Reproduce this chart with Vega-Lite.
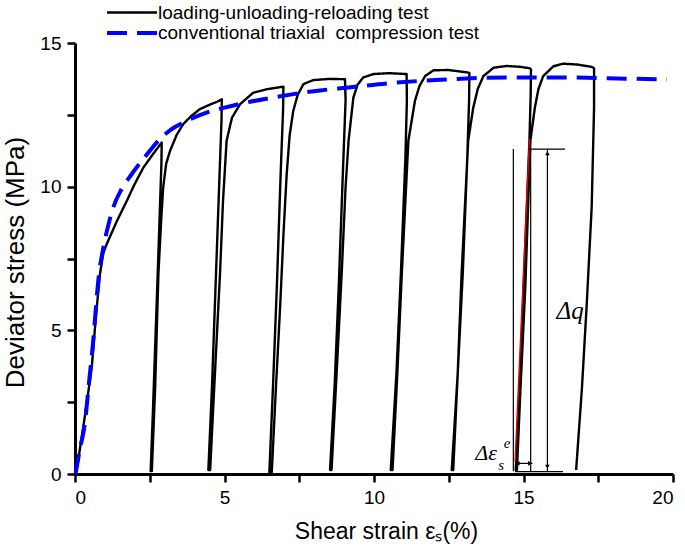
{
  "$schema": "https://vega.github.io/schema/vega-lite/v6.json",
  "autosize": {"type": "none"},
  "padding": {"left": 75, "top": 43, "right": 12, "bottom": 78},
  "width": 598,
  "height": 431,
  "background": "white",
  "config": {
    "view": {"stroke": null},
    "font": "Liberation Sans",
    "axis": {
      "grid": false,
      "domainColor": "black",
      "domainWidth": 3,
      "tickColor": "black",
      "tickWidth": 2.5,
      "tickSize": 8,
      "labelFont": "Liberation Sans",
      "labelFontSize": 19,
      "labelColor": "black",
      "titleFont": "Liberation Sans",
      "titleFontWeight": "normal",
      "titleColor": "black"
    },
    "legend": {
      "orient": "none",
      "legendX": 30,
      "legendY": -40,
      "padding": 0,
      "symbolType": "M-1,0H5.25",
      "symbolSize": 256,
      "labelFont": "Liberation Sans",
      "labelFontSize": 19,
      "labelColor": "black",
      "labelLimit": 0,
      "labelOffset": 33,
      "rowPadding": 0,
      "direction": "vertical"
    }
  },
  "datasets": {
    "curves": [
      {"series": "loading-unloading-reloading test", "i": 1, "x": 0, "y": 0},
      {"series": "loading-unloading-reloading test", "i": 2, "x": 0.08, "y": 0.3},
      {"series": "loading-unloading-reloading test", "i": 3, "x": 0.3, "y": 1.8},
      {"series": "loading-unloading-reloading test", "i": 4, "x": 0.56, "y": 3.7},
      {"series": "loading-unloading-reloading test", "i": 5, "x": 0.7, "y": 5.5},
      {"series": "loading-unloading-reloading test", "i": 6, "x": 0.84, "y": 7.0},
      {"series": "loading-unloading-reloading test", "i": 7, "x": 0.95, "y": 7.7},
      {"series": "loading-unloading-reloading test", "i": 8, "x": 1.06, "y": 8.0},
      {"series": "loading-unloading-reloading test", "i": 9, "x": 1.4, "y": 8.8},
      {"series": "loading-unloading-reloading test", "i": 10, "x": 1.73, "y": 9.5},
      {"series": "loading-unloading-reloading test", "i": 11, "x": 2.0, "y": 10.1},
      {"series": "loading-unloading-reloading test", "i": 12, "x": 2.29, "y": 10.67},
      {"series": "loading-unloading-reloading test", "i": 13, "x": 2.6, "y": 11.12},
      {"series": "loading-unloading-reloading test", "i": 14, "x": 2.9, "y": 11.54},
      {"series": "loading-unloading-reloading test", "i": 15, "x": 2.89, "y": 10.8},
      {"series": "loading-unloading-reloading test", "i": 16, "x": 2.8, "y": 8.0},
      {"series": "loading-unloading-reloading test", "i": 17, "x": 2.7, "y": 5.0},
      {"series": "loading-unloading-reloading test", "i": 18, "x": 2.6, "y": 2.0},
      {"series": "loading-unloading-reloading test", "i": 19, "x": 2.53, "y": 0.1},
      {"series": "loading-unloading-reloading test", "i": 20, "x": 2.57, "y": 0.1},
      {"series": "loading-unloading-reloading test", "i": 21, "x": 2.68, "y": 3.0},
      {"series": "loading-unloading-reloading test", "i": 22, "x": 2.79, "y": 6.97},
      {"series": "loading-unloading-reloading test", "i": 23, "x": 2.88, "y": 8.8},
      {"series": "loading-unloading-reloading test", "i": 24, "x": 2.95, "y": 9.98},
      {"series": "loading-unloading-reloading test", "i": 25, "x": 3.05, "y": 10.8},
      {"series": "loading-unloading-reloading test", "i": 26, "x": 3.18, "y": 11.25},
      {"series": "loading-unloading-reloading test", "i": 27, "x": 3.4, "y": 11.8},
      {"series": "loading-unloading-reloading test", "i": 28, "x": 3.62, "y": 12.18},
      {"series": "loading-unloading-reloading test", "i": 29, "x": 3.9, "y": 12.47},
      {"series": "loading-unloading-reloading test", "i": 30, "x": 4.18, "y": 12.7},
      {"series": "loading-unloading-reloading test", "i": 31, "x": 4.5, "y": 12.85},
      {"series": "loading-unloading-reloading test", "i": 32, "x": 4.74, "y": 12.95},
      {"series": "loading-unloading-reloading test", "i": 33, "x": 4.91, "y": 13.04},
      {"series": "loading-unloading-reloading test", "i": 34, "x": 4.9, "y": 12.3},
      {"series": "loading-unloading-reloading test", "i": 35, "x": 4.82, "y": 10.0},
      {"series": "loading-unloading-reloading test", "i": 36, "x": 4.7, "y": 6.5},
      {"series": "loading-unloading-reloading test", "i": 37, "x": 4.58, "y": 3.0},
      {"series": "loading-unloading-reloading test", "i": 38, "x": 4.46, "y": 0.14},
      {"series": "loading-unloading-reloading test", "i": 39, "x": 4.52, "y": 0.14},
      {"series": "loading-unloading-reloading test", "i": 40, "x": 4.68, "y": 3.5},
      {"series": "loading-unloading-reloading test", "i": 41, "x": 4.85, "y": 6.97},
      {"series": "loading-unloading-reloading test", "i": 42, "x": 4.95, "y": 9.5},
      {"series": "loading-unloading-reloading test", "i": 43, "x": 5.07, "y": 11.6},
      {"series": "loading-unloading-reloading test", "i": 44, "x": 5.25, "y": 12.4},
      {"series": "loading-unloading-reloading test", "i": 45, "x": 5.52, "y": 12.87},
      {"series": "loading-unloading-reloading test", "i": 46, "x": 5.96, "y": 13.27},
      {"series": "loading-unloading-reloading test", "i": 47, "x": 6.41, "y": 13.39},
      {"series": "loading-unloading-reloading test", "i": 48, "x": 6.97, "y": 13.48},
      {"series": "loading-unloading-reloading test", "i": 49, "x": 6.96, "y": 12.7},
      {"series": "loading-unloading-reloading test", "i": 50, "x": 6.88, "y": 10.5},
      {"series": "loading-unloading-reloading test", "i": 51, "x": 6.75, "y": 6.5},
      {"series": "loading-unloading-reloading test", "i": 52, "x": 6.62, "y": 3.0},
      {"series": "loading-unloading-reloading test", "i": 53, "x": 6.5, "y": 0.05},
      {"series": "loading-unloading-reloading test", "i": 54, "x": 6.58, "y": 0.05},
      {"series": "loading-unloading-reloading test", "i": 55, "x": 6.72, "y": 3.0},
      {"series": "loading-unloading-reloading test", "i": 56, "x": 6.86, "y": 5.81},
      {"series": "loading-unloading-reloading test", "i": 57, "x": 6.97, "y": 8.3},
      {"series": "loading-unloading-reloading test", "i": 58, "x": 7.08, "y": 10.44},
      {"series": "loading-unloading-reloading test", "i": 59, "x": 7.18, "y": 11.8},
      {"series": "loading-unloading-reloading test", "i": 60, "x": 7.3, "y": 12.64},
      {"series": "loading-unloading-reloading test", "i": 61, "x": 7.45, "y": 13.2},
      {"series": "loading-unloading-reloading test", "i": 62, "x": 7.64, "y": 13.57},
      {"series": "loading-unloading-reloading test", "i": 63, "x": 7.97, "y": 13.71},
      {"series": "loading-unloading-reloading test", "i": 64, "x": 8.5, "y": 13.75},
      {"series": "loading-unloading-reloading test", "i": 65, "x": 9.03, "y": 13.74},
      {"series": "loading-unloading-reloading test", "i": 66, "x": 9.05, "y": 13.0},
      {"series": "loading-unloading-reloading test", "i": 67, "x": 8.97, "y": 10.8},
      {"series": "loading-unloading-reloading test", "i": 68, "x": 8.82, "y": 6.5},
      {"series": "loading-unloading-reloading test", "i": 69, "x": 8.68, "y": 3.0},
      {"series": "loading-unloading-reloading test", "i": 70, "x": 8.53, "y": 0.14},
      {"series": "loading-unloading-reloading test", "i": 71, "x": 8.58, "y": 0.14},
      {"series": "loading-unloading-reloading test", "i": 72, "x": 8.75, "y": 3.5},
      {"series": "loading-unloading-reloading test", "i": 73, "x": 8.92, "y": 7.0},
      {"series": "loading-unloading-reloading test", "i": 74, "x": 9.05, "y": 10.0},
      {"series": "loading-unloading-reloading test", "i": 75, "x": 9.15, "y": 11.6},
      {"series": "loading-unloading-reloading test", "i": 76, "x": 9.31, "y": 13.1},
      {"series": "loading-unloading-reloading test", "i": 77, "x": 9.45, "y": 13.55},
      {"series": "loading-unloading-reloading test", "i": 78, "x": 9.64, "y": 13.8},
      {"series": "loading-unloading-reloading test", "i": 79, "x": 9.98, "y": 13.92},
      {"series": "loading-unloading-reloading test", "i": 80, "x": 10.5, "y": 13.95},
      {"series": "loading-unloading-reloading test", "i": 81, "x": 11.09, "y": 13.92},
      {"series": "loading-unloading-reloading test", "i": 82, "x": 11.1, "y": 13.0},
      {"series": "loading-unloading-reloading test", "i": 83, "x": 11.05, "y": 11.0},
      {"series": "loading-unloading-reloading test", "i": 84, "x": 10.9, "y": 7.0},
      {"series": "loading-unloading-reloading test", "i": 85, "x": 10.75, "y": 3.5},
      {"series": "loading-unloading-reloading test", "i": 86, "x": 10.56, "y": 0.14},
      {"series": "loading-unloading-reloading test", "i": 87, "x": 10.62, "y": 0.14},
      {"series": "loading-unloading-reloading test", "i": 88, "x": 10.78, "y": 3.5},
      {"series": "loading-unloading-reloading test", "i": 89, "x": 10.93, "y": 6.97},
      {"series": "loading-unloading-reloading test", "i": 90, "x": 11.05, "y": 9.5},
      {"series": "loading-unloading-reloading test", "i": 91, "x": 11.15, "y": 11.6},
      {"series": "loading-unloading-reloading test", "i": 92, "x": 11.37, "y": 12.99},
      {"series": "loading-unloading-reloading test", "i": 93, "x": 11.52, "y": 13.5},
      {"series": "loading-unloading-reloading test", "i": 94, "x": 11.71, "y": 13.85},
      {"series": "loading-unloading-reloading test", "i": 95, "x": 11.99, "y": 14.05},
      {"series": "loading-unloading-reloading test", "i": 96, "x": 12.5, "y": 14.06},
      {"series": "loading-unloading-reloading test", "i": 97, "x": 13.1, "y": 13.98},
      {"series": "loading-unloading-reloading test", "i": 98, "x": 13.19, "y": 13.96},
      {"series": "loading-unloading-reloading test", "i": 99, "x": 13.18, "y": 13.0},
      {"series": "loading-unloading-reloading test", "i": 100, "x": 13.12, "y": 11.0},
      {"series": "loading-unloading-reloading test", "i": 101, "x": 12.97, "y": 7.0},
      {"series": "loading-unloading-reloading test", "i": 102, "x": 12.8, "y": 3.5},
      {"series": "loading-unloading-reloading test", "i": 103, "x": 12.6, "y": 0.14},
      {"series": "loading-unloading-reloading test", "i": 104, "x": 12.65, "y": 0.14},
      {"series": "loading-unloading-reloading test", "i": 105, "x": 12.8, "y": 3.5},
      {"series": "loading-unloading-reloading test", "i": 106, "x": 12.93, "y": 6.97},
      {"series": "loading-unloading-reloading test", "i": 107, "x": 13.05, "y": 9.5},
      {"series": "loading-unloading-reloading test", "i": 108, "x": 13.15, "y": 11.6},
      {"series": "loading-unloading-reloading test", "i": 109, "x": 13.32, "y": 12.75},
      {"series": "loading-unloading-reloading test", "i": 110, "x": 13.47, "y": 13.4},
      {"series": "loading-unloading-reloading test", "i": 111, "x": 13.66, "y": 13.85},
      {"series": "loading-unloading-reloading test", "i": 112, "x": 14.0, "y": 14.14},
      {"series": "loading-unloading-reloading test", "i": 113, "x": 14.44, "y": 14.2},
      {"series": "loading-unloading-reloading test", "i": 114, "x": 14.9, "y": 14.17},
      {"series": "loading-unloading-reloading test", "i": 115, "x": 15.21, "y": 14.12},
      {"series": "loading-unloading-reloading test", "i": 116, "x": 15.25, "y": 14.08},
      {"series": "loading-unloading-reloading test", "i": 117, "x": 15.24, "y": 13.2},
      {"series": "loading-unloading-reloading test", "i": 118, "x": 15.2, "y": 11.66},
      {"series": "loading-unloading-reloading test", "i": 119, "x": 15.08, "y": 8.5},
      {"series": "loading-unloading-reloading test", "i": 120, "x": 14.95, "y": 5.0},
      {"series": "loading-unloading-reloading test", "i": 121, "x": 14.83, "y": 2.0},
      {"series": "loading-unloading-reloading test", "i": 122, "x": 14.74, "y": 0.14},
      {"series": "loading-unloading-reloading test", "i": 123, "x": 14.78, "y": 0.14},
      {"series": "loading-unloading-reloading test", "i": 124, "x": 14.9, "y": 3.0},
      {"series": "loading-unloading-reloading test", "i": 125, "x": 15.06, "y": 6.5},
      {"series": "loading-unloading-reloading test", "i": 126, "x": 15.16, "y": 9.5},
      {"series": "loading-unloading-reloading test", "i": 127, "x": 15.23, "y": 11.6},
      {"series": "loading-unloading-reloading test", "i": 128, "x": 15.38, "y": 12.75},
      {"series": "loading-unloading-reloading test", "i": 129, "x": 15.5, "y": 13.4},
      {"series": "loading-unloading-reloading test", "i": 130, "x": 15.66, "y": 13.85},
      {"series": "loading-unloading-reloading test", "i": 131, "x": 16.0, "y": 14.19},
      {"series": "loading-unloading-reloading test", "i": 132, "x": 16.33, "y": 14.28},
      {"series": "loading-unloading-reloading test", "i": 133, "x": 16.8, "y": 14.25},
      {"series": "loading-unloading-reloading test", "i": 134, "x": 17.28, "y": 14.17},
      {"series": "loading-unloading-reloading test", "i": 135, "x": 17.36, "y": 14.12},
      {"series": "loading-unloading-reloading test", "i": 136, "x": 17.36, "y": 12.75},
      {"series": "loading-unloading-reloading test", "i": 137, "x": 17.28, "y": 9.28},
      {"series": "loading-unloading-reloading test", "i": 138, "x": 17.11, "y": 5.81},
      {"series": "loading-unloading-reloading test", "i": 139, "x": 16.95, "y": 2.92},
      {"series": "loading-unloading-reloading test", "i": 140, "x": 16.76, "y": 0.14},
      {"series": "conventional triaxial\u00a0 compression test", "i": 1, "x": 0.02, "y": 0},
      {"series": "conventional triaxial\u00a0 compression test", "i": 2, "x": 0.15, "y": 0.8},
      {"series": "conventional triaxial\u00a0 compression test", "i": 3, "x": 0.33, "y": 1.76},
      {"series": "conventional triaxial\u00a0 compression test", "i": 4, "x": 0.47, "y": 3.2},
      {"series": "conventional triaxial\u00a0 compression test", "i": 5, "x": 0.61, "y": 4.65},
      {"series": "conventional triaxial\u00a0 compression test", "i": 6, "x": 0.7, "y": 5.8},
      {"series": "conventional triaxial\u00a0 compression test", "i": 7, "x": 0.78, "y": 6.74},
      {"series": "conventional triaxial\u00a0 compression test", "i": 8, "x": 0.95, "y": 7.89},
      {"series": "conventional triaxial\u00a0 compression test", "i": 9, "x": 1.1, "y": 8.6},
      {"series": "conventional triaxial\u00a0 compression test", "i": 10, "x": 1.28, "y": 9.28},
      {"series": "conventional triaxial\u00a0 compression test", "i": 11, "x": 1.55, "y": 9.9},
      {"series": "conventional triaxial\u00a0 compression test", "i": 12, "x": 1.9, "y": 10.44},
      {"series": "conventional triaxial\u00a0 compression test", "i": 13, "x": 2.35, "y": 11.05},
      {"series": "conventional triaxial\u00a0 compression test", "i": 14, "x": 2.84, "y": 11.66},
      {"series": "conventional triaxial\u00a0 compression test", "i": 15, "x": 3.2, "y": 11.98},
      {"series": "conventional triaxial\u00a0 compression test", "i": 16, "x": 3.62, "y": 12.23},
      {"series": "conventional triaxial\u00a0 compression test", "i": 17, "x": 4.4, "y": 12.58},
      {"series": "conventional triaxial\u00a0 compression test", "i": 18, "x": 5.0, "y": 12.75},
      {"series": "conventional triaxial\u00a0 compression test", "i": 19, "x": 5.74, "y": 12.93},
      {"series": "conventional triaxial\u00a0 compression test", "i": 20, "x": 6.5, "y": 13.08},
      {"series": "conventional triaxial\u00a0 compression test", "i": 21, "x": 7.3, "y": 13.22},
      {"series": "conventional triaxial\u00a0 compression test", "i": 22, "x": 8.2, "y": 13.35},
      {"series": "conventional triaxial\u00a0 compression test", "i": 23, "x": 9.14, "y": 13.45},
      {"series": "conventional triaxial\u00a0 compression test", "i": 24, "x": 10.5, "y": 13.6},
      {"series": "conventional triaxial\u00a0 compression test", "i": 25, "x": 12.21, "y": 13.72},
      {"series": "conventional triaxial\u00a0 compression test", "i": 26, "x": 14.44, "y": 13.8},
      {"series": "conventional triaxial\u00a0 compression test", "i": 27, "x": 16.5, "y": 13.8},
      {"series": "conventional triaxial\u00a0 compression test", "i": 28, "x": 18.45, "y": 13.76},
      {"series": "conventional triaxial\u00a0 compression test", "i": 29, "x": 19.8, "y": 13.73}
    ]
  },
  "layer": [
    {
      "data": {"name": "curves"},
      "transform": [{"filter": "datum.series === 'loading-unloading-reloading test'"}],
      "mark": {"type": "line", "strokeJoin": "round", "strokeCap": "butt", "clip": false},
      "encoding": {
        "x": {
          "field": "x", "type": "quantitative",
          "scale": {"domain": [0, 20], "nice": false},
          "axis": {
            "values": [0, 2.5, 5, 7.5, 10, 12.5, 15, 17.5, 20],
            "labelExpr": "datum.value % 5 === 0 ? datum.label : ''",
            "labelPadding": 6,
            "title": "Shear strain εₛ(%)",
            "titleFontSize": 23,
            "titleX": 311,
            "titleY": 64,
            "titleAlign": "center",
            "titleBaseline": "alphabetic"
          }
        },
        "y": {
          "field": "y", "type": "quantitative",
          "scale": {"domain": [0, 15], "nice": false},
          "axis": {
            "values": [0, 2.5, 5, 7.5, 10, 12.5, 15],
            "labelExpr": "datum.value % 5 === 0 ? datum.label : ''",
            "labelPadding": 6,
            "title": "Deviator stress (MPa)",
            "titleFontSize": 26,
            "titleAngle": 270,
            "titleX": -52,
            "titleY": 219,
            "titleAlign": "center",
            "titleBaseline": "alphabetic"
          }
        },
        "order": {"field": "i", "type": "quantitative"},
        "color": {
          "field": "series", "type": "nominal",
          "scale": {"domain": ["loading-unloading-reloading test", "conventional triaxial\u00a0 compression test"], "range": ["#000000", "#0000ff"]},
          "legend": {"title": null}
        },
        "strokeDash": {
          "field": "series", "type": "nominal",
          "scale": {"domain": ["loading-unloading-reloading test", "conventional triaxial\u00a0 compression test"], "range": [[1, 0], [20, 10]]},
          "legend": {"title": null}
        },
        "strokeWidth": {
          "field": "series", "type": "nominal",
          "scale": {"domain": ["loading-unloading-reloading test", "conventional triaxial\u00a0 compression test"], "range": [2.4, 4]},
          "legend": {"title": null}
        }
      }
    },
    {
      "data": {"name": "curves"},
      "transform": [{"filter": "datum.series !== 'loading-unloading-reloading test'"}],
      "mark": {"type": "line", "interpolate": "monotone", "strokeCap": "butt", "clip": false},
      "encoding": {
        "x": {"field": "x", "type": "quantitative"},
        "y": {"field": "y", "type": "quantitative"},
        "order": {"field": "i", "type": "quantitative"},
        "color": {"field": "series", "type": "nominal", "legend": {"title": null}},
        "strokeDash": {"field": "series", "type": "nominal", "legend": {"title": null}},
        "strokeWidth": {"field": "series", "type": "nominal", "legend": {"title": null}}
      }
    },
    {
      "data": {"values": [
        {"x": 14.72, "y": 0.43},
        {"x": 15.2, "y": 11.66}
      ]},
      "mark": {"type": "line", "color": "#e00000", "strokeWidth": 1.5},
      "encoding": {
        "x": {"field": "x", "type": "quantitative"},
        "y": {"field": "y", "type": "quantitative"}
      }
    },
    {
      "data": {"values": [
        {"x": 14.66, "x2": 14.66, "y": 0.1, "y2": 11.31},
        {"x": 15.24, "x2": 15.24, "y": 0.08, "y2": 11.31},
        {"x": 15.16, "x2": 16.39, "y": 11.31, "y2": 11.31},
        {"x": 15.8, "x2": 15.8, "y": 0.1, "y2": 11.31},
        {"x": 14.72, "x2": 16.32, "y": 0.08, "y2": 0.08},
        {"x": 14.72, "x2": 15.3, "y": 0.37, "y2": 0.37}
      ]},
      "mark": {"type": "rule", "color": "black", "strokeWidth": 1.2},
      "encoding": {
        "x": {"field": "x", "type": "quantitative"},
        "x2": {"field": "x2"},
        "y": {"field": "y", "type": "quantitative"},
        "y2": {"field": "y2"}
      }
    },
    {
      "data": {"values": [
        {"x": 15.8, "y": 11.16, "dir": "up"},
        {"x": 15.8, "y": 0.25, "dir": "down"},
        {"x": 14.8, "y": 0.37, "dir": "left"},
        {"x": 15.22, "y": 0.37, "dir": "right"}
      ]},
      "mark": {"type": "point", "filled": true, "color": "black", "opacity": 1, "size": 22},
      "encoding": {
        "x": {"field": "x", "type": "quantitative"},
        "y": {"field": "y", "type": "quantitative"},
        "shape": {
          "field": "dir", "type": "nominal",
          "scale": {"domain": ["up", "down", "left", "right"], "range": ["triangle-up", "triangle-down", "triangle-left", "triangle-right"]},
          "legend": null
        }
      }
    },
    {
      "data": {"values": [{"t": "Δq", "x": 16.56, "y": 5.69}]},
      "mark": {"type": "text", "font": "Liberation Serif", "fontStyle": "italic", "fontSize": 25, "align": "center", "baseline": "middle", "color": "black"},
      "encoding": {
        "x": {"field": "x", "type": "quantitative"},
        "y": {"field": "y", "type": "quantitative"},
        "text": {"field": "t"}
      }
    },
    {
      "data": {"values": [{"t": "Δε", "x": 13.75, "y": 0.73}]},
      "mark": {"type": "text", "font": "Liberation Serif", "fontStyle": "italic", "fontSize": 22, "align": "center", "baseline": "middle", "color": "black"},
      "encoding": {
        "x": {"field": "x", "type": "quantitative"},
        "y": {"field": "y", "type": "quantitative"},
        "text": {"field": "t"}
      }
    },
    {
      "data": {"values": [{"t": "s", "x": 14.25, "y": 0.31}, {"t": "e", "x": 14.45, "y": 1.08}]},
      "mark": {"type": "text", "font": "Liberation Serif", "fontStyle": "italic", "fontSize": 15, "align": "center", "baseline": "middle", "color": "black"},
      "encoding": {
        "x": {"field": "x", "type": "quantitative"},
        "y": {"field": "y", "type": "quantitative"},
        "text": {"field": "t"}
      }
    }
  ]
}
